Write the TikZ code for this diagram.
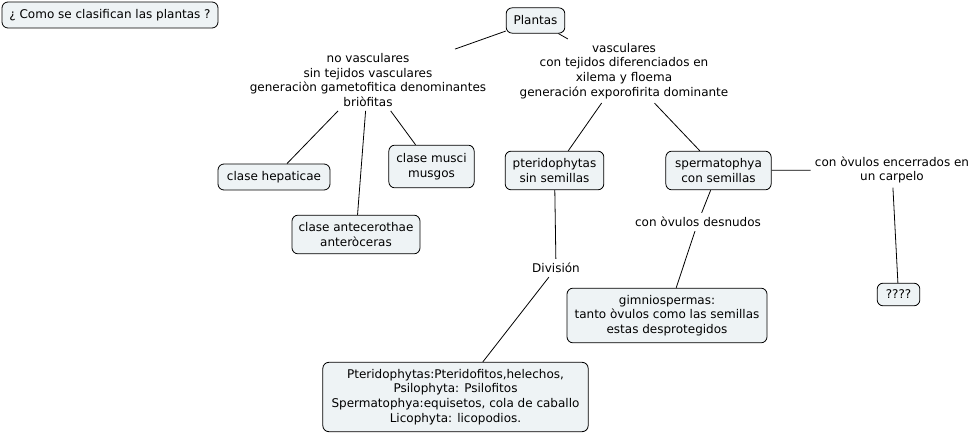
\documentclass[tikz,border=0pt]{standalone}
\usepackage{fontspec}
\setmainfont{DejaVu Sans}
\definecolor{boxfill}{HTML}{EEF3F5}
\tikzset{
  px/.style={x=0.75pt,y=-0.75pt},
  txt/.style={font=\fontsize{9}{11}\selectfont},
  cbox/.style={txt,draw=black,fill=boxfill,rounded corners=4.5pt,align=center,inner sep=0pt,line width=0.6pt},
  lbl/.style={txt,align=center,inner sep=3pt},
  conn/.style={draw=black,line width=0.6pt}
}
\begin{document}
\begin{tikzpicture}[px]
\useasboundingbox (0,0) rectangle (977,434);
\node[cbox,minimum width=162pt,minimum height=19.5pt] (title) at (110,15) {¿ Como se clasifican las plantas ?};
\node[cbox,minimum width=44pt,minimum height=19pt] (plantas) at (535.5,20.5) {Plantas};
\node[lbl] (novasc) at (368,80) {no vasculares\\sin tejidos vasculares\\generaciòn gametofitica denominantes\\briòfitas};
\node[lbl] (vasc) at (624,71) {vasculares\\con tejidos diferenciados en\\xilema y floema\\generación exporofirita dominante};
\node[cbox,minimum width=84pt,minimum height=19.5pt] (hepat) at (274,177) {clase hepaticae};
\node[cbox,minimum width=64pt,minimum height=32pt] (musci) at (431.5,166.5) {clase musci\\musgos};
\node[cbox,minimum width=96pt,minimum height=29pt] (antec) at (356,234.5) {clase antecerothae\\anteròceras};
\node[cbox,minimum width=74pt,minimum height=29pt] (pterid) at (554.5,170.5) {pteridophytas\\sin semillas};
\node[cbox,minimum width=79pt,minimum height=29pt] (sperm) at (718.5,170.5) {spermatophya\\con semillas};
\node[lbl] (encerr) at (892,170) {con òvulos encerrados en\\un carpelo};
\node[lbl] (desnud) at (698,222) {con òvulos desnudos};
\node[lbl] (divis) at (556,268) {División};
\node[cbox,minimum width=150pt,minimum height=41pt] (gimno) at (667,315.5) {gimniospermas:\\tanto òvulos como las semillas\\estas desprotegidos};
\node[cbox,minimum width=32pt,minimum height=17pt] (qqq) at (898.5,294.5) {????};
\node[cbox,minimum width=199pt,minimum height=52pt] (ptlist) at (455.5,397) {Pteridophytas:Pteridofitos,helechos,\\Psilophyta: Psilofitos\\Spermatophya:equisetos, cola de caballo\\Licophyta: licopodios.};
\draw[conn] (plantas) -- (novasc);
\draw[conn] (plantas) -- (vasc);
\draw[conn] (novasc) -- (hepat);
\draw[conn] (novasc) -- (antec);
\draw[conn] (novasc) -- (musci);
\draw[conn] (vasc) -- (pterid);
\draw[conn] (vasc) -- (sperm);
\draw[conn] (sperm) -- (encerr);
\draw[conn] (encerr) -- (qqq);
\draw[conn] (sperm) -- (desnud);
\draw[conn] (desnud) -- (gimno);
\draw[conn] (pterid) -- (divis);
\draw[conn] (divis) -- (ptlist);
\end{tikzpicture}
\end{document}
